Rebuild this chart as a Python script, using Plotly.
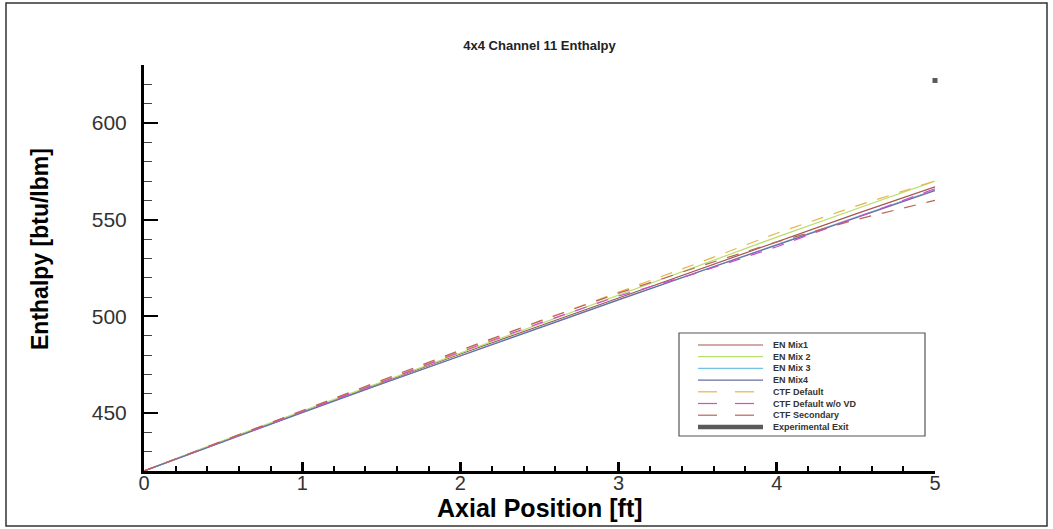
import plotly.graph_objects as go

axial_ft = [0, 0.5, 1.0, 1.5, 2.0, 2.5, 3.0, 3.5, 4.0, 4.5, 5.0]
en_mix1 = [420, 435.5, 450.5, 465.5, 480.5, 495.0, 509.5, 524.0, 538.5, 553.0, 567.0]
en_mix2 = [420, 435.8, 451.0, 466.0, 481.0, 496.0, 511.0, 526.0, 541.0, 555.5, 570.0]
en_mix3 = [420, 435.3, 450.3, 465.0, 479.8, 494.3, 508.7, 523.0, 537.3, 551.3, 565.5]
en_mix4 = [420, 435.3, 450.2, 465.0, 479.6, 494.1, 508.5, 522.8, 537.0, 551.0, 565.0]
ctf_default = [420, 435.5, 451.0, 466.5, 482.0, 497.5, 512.5, 527.5, 543.0, 557.0, 570.0]
ctf_default_novd = [420, 435.2, 450.5, 466.0, 481.5, 496.5, 510.5, 522.5, 536.0, 551.0, 566.0]
ctf_secondary = [420, 435.6, 451.5, 467.0, 482.5, 497.5, 512.0, 525.5, 538.5, 550.0, 560.0]
exp_x = [5.0]
exp_y = [622.0]

FONT = "Arial, Liberation Sans, sans-serif"
DASH = "12px,11px"

series = [
    ("EN Mix1", en_mix1, "#a4564e", "solid"),
    ("EN Mix 2", en_mix2, "#b8de6c", "solid"),
    ("EN Mix 3", en_mix3, "#74c2e2", "solid"),
    ("EN Mix4", en_mix4, "#6c6c9e", "solid"),
    ("CTF Default", ctf_default, "#e8b448", DASH),
    ("CTF Default w/o VD", ctf_default_novd, "#d24ad2", DASH),
    ("CTF Secondary", ctf_secondary, "#b8645a", DASH),
]
exp_name, exp_color = "Experimental Exit", "#5a5a5a"

fig = go.Figure()
for name, ys, color, dash in series:
    fig.add_trace(go.Scatter(x=axial_ft, y=ys, mode="lines", name=name, showlegend=False,
                             line=dict(color=color, width=1.2, dash=dash)))
fig.add_trace(go.Scatter(x=exp_x, y=exp_y, mode="markers", name=exp_name, showlegend=False,
                         cliponaxis=False,
                         marker=dict(symbol="square", size=5, color=exp_color)))

W, H = 1053, 529
L, R, T, B = 144, 118, 65, 58
fig.update_layout(
    width=W, height=H,
    margin=dict(l=L, r=R, t=T, b=B),
    paper_bgcolor="white", plot_bgcolor="white",
    font=dict(family=FONT, color="#222"),
    title=dict(text="<b>4x4 Channel 11 Enthalpy</b>", x=0.5, xref="paper", xanchor="center",
               y=1 - 45 / H, yanchor="middle", font=dict(size=13, color="#222")),
    showlegend=False,
)
fig.update_xaxes(
    range=[0, 5], showgrid=False, zeroline=False,
    showline=True, linecolor="black", linewidth=3,
    tickmode="linear", tick0=0, dtick=1,
    ticks="inside", ticklen=9, tickwidth=3, tickcolor="black",
    tickfont=dict(size=20, color="#333", family=FONT),
    ticklabelstandoff=-8,
    minor=dict(ticks="inside", dtick=0.2, ticklen=5, tickwidth=1.5, tickcolor="black"),
)
fig.update_yaxes(
    range=[420, 630], showgrid=False, zeroline=False,
    showline=True, linecolor="black", linewidth=3,
    tickmode="linear", tick0=0, dtick=50,
    ticks="inside", ticklen=14, tickwidth=2, tickcolor="black",
    tickfont=dict(size=21, color="#333", family=FONT),
    ticklabelstandoff=10,
    minor=dict(ticks="inside", dtick=10, ticklen=8, tickwidth=1, tickcolor="#444"),
)

pw, ph = W - L - R, H - T - B
def px_x(p):
    return (p - L) / pw
def px_y(p):
    return (H - B - p) / ph

# axis titles
fig.add_annotation(text="<b>Axial Position [ft]</b>", xref="paper", yref="paper",
                   x=0.5, y=px_y(508), xanchor="center", yanchor="middle", showarrow=False,
                   font=dict(size=25, color="black", family=FONT))
fig.add_annotation(text="<b>Enthalpy [btu/lbm]</b>", xref="paper", yref="paper",
                   x=px_x(40), y=px_y(249), xanchor="center", yanchor="middle", showarrow=False,
                   textangle=-90, font=dict(size=23, color="black", family=FONT))

# outer frame
fig.add_shape(type="rect", xref="paper", yref="paper",
              x0=px_x(6), x1=px_x(1047), y0=px_y(526), y1=px_y(3),
              line=dict(color="#333", width=1.5), fillcolor="rgba(0,0,0,0)", layer="below")

# legend box (compact, drawn manually)
fig.add_shape(type="rect", xref="paper", yref="paper",
              x0=px_x(679), x1=px_x(925), y0=px_y(436), y1=px_y(333),
              line=dict(color="#555", width=1.2), fillcolor="white", layer="above")
entries = [(n, c, d, 1.2) for n, _, c, d in series] + [(exp_name, exp_color, "solid", 4.5)]
LEG_SIZE = 9
step = 1.3 * LEG_SIZE
first = 345.0
for i, (name, color, dash, w) in enumerate(entries):
    yy = px_y(first + i * step)
    if dash == "solid":
        fig.add_shape(type="line", xref="paper", yref="paper",
                      x0=px_x(698), x1=px_x(763), y0=yy, y1=yy,
                      line=dict(color=color, width=w), layer="above")
    else:
        for a, b in ((698, 717), (735, 754)):
            fig.add_shape(type="line", xref="paper", yref="paper",
                          x0=px_x(a), x1=px_x(b), y0=yy, y1=yy,
                          line=dict(color=color, width=w), layer="above")
center = first + step * (len(entries) - 1) / 2
fig.add_annotation(text="<br>".join("<b>" + e[0] + "</b>" for e in entries),
                   xref="paper", yref="paper", x=px_x(772), y=px_y(center),
                   xanchor="left", yanchor="middle", align="left", showarrow=False,
                   borderpad=0, font=dict(size=LEG_SIZE, color="#333", family=FONT))

fig.write_html("out.html")
